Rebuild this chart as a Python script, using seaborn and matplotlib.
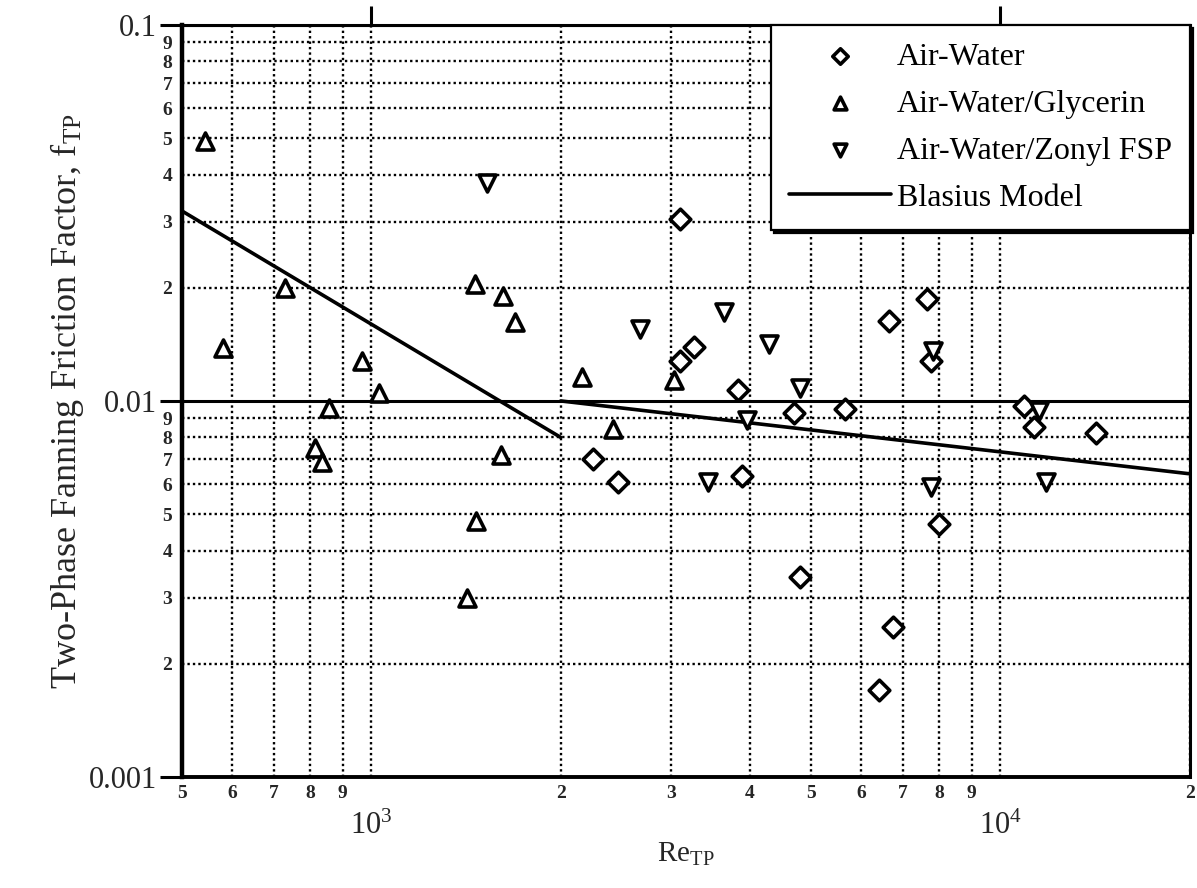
import matplotlib
matplotlib.use("Agg")
import matplotlib.pyplot as plt
import numpy as np
import pandas as pd
import seaborn as sns
from matplotlib.ticker import FixedLocator, FixedFormatter

# ---------------- data ----------------
aw_re = [2250, 2470, 3090, 3100, 3260, 3820, 3880, 4700, 4810, 5670,
         6400, 6660, 6750, 7630, 7750, 7990, 10900, 11300, 14200]
aw_f = [0.0070, 0.0061, 0.0305, 0.0128, 0.0139, 0.0107, 0.0063, 0.0093, 0.0034, 0.0095,
        0.0017, 0.0163, 0.0025, 0.0187, 0.0128, 0.0047, 0.0097, 0.0085, 0.0082]

gly_re = [545, 582, 728, 815, 836, 858, 966, 1030, 1420, 1460,
          1465, 1610, 1620, 1690, 2160, 2420, 3030]
gly_f = [0.049, 0.0138, 0.020, 0.0075, 0.0069, 0.0096, 0.0128, 0.0105, 0.0030, 0.0205,
         0.0048, 0.0072, 0.0190, 0.0162, 0.0116, 0.0084, 0.0114]

zon_re = [1527, 2670, 3430, 3640, 3960, 4290, 4800, 7750, 7800, 11500, 11800]
zon_f = [0.038, 0.0155, 0.0061, 0.0172, 0.0089, 0.0142, 0.0108, 0.0059, 0.0136, 0.0094, 0.0061]

# Blasius model (laminar and turbulent branches, end points)
lam_re = [500, 2000]
lam_f = [0.032, 0.008]
turb_re = [2000, 20000]
turb_f = [0.0100, 0.0064]

series_labels = ["Air-Water", "Air-Water/Glycerin", "Air-Water/Zonyl FSP", "Blasius Model"]

x_major = [1000, 10000]
x_major_labels = ["$10^3$", "$10^4$"]
x_minor = [500, 600, 700, 800, 900, 2000, 3000, 4000, 5000, 6000, 7000, 8000, 9000, 20000]
x_minor_labels = ["5", "6", "7", "8", "9", "2", "3", "4", "5", "6", "7", "8", "9", "2"]
y_major = [0.001, 0.01, 0.1]
y_major_labels = ["0.001", "0.01", "0.1"]
y_minor = [0.002, 0.003, 0.004, 0.005, 0.006, 0.007, 0.008, 0.009,
           0.02, 0.03, 0.04, 0.05, 0.06, 0.07, 0.08, 0.09]
y_minor_labels = ["2", "3", "4", "5", "6", "7", "8", "9",
                  "2", "3", "4", "5", "6", "7", "8", "9"]

# ---------------- style ----------------
sns.set_theme(style="white")
plt.rcParams["font.family"] = ["Liberation Serif", "DejaVu Serif"]
plt.rcParams["mathtext.fontset"] = "custom"
plt.rcParams["mathtext.rm"] = "Liberation Serif"
plt.rcParams["mathtext.it"] = "Liberation Serif:italic"
plt.rcParams["mathtext.bf"] = "Liberation Serif:bold"
plt.rcParams["text.color"] = "black"

fig = plt.figure(figsize=(11.97, 8.88), dpi=100)
ax = fig.add_axes([0.152, 0.125, 0.842, 0.847])

dotted = (0, (1.0, 1.3))
edge = dict(color="white", edgecolor="black", linewidth=2.6, zorder=5)

sns.scatterplot(x=aw_re, y=aw_f, marker="D", s=110, ax=ax, label=series_labels[0], **edge)
sns.scatterplot(x=gly_re, y=gly_f, marker="^", s=150, ax=ax, label=series_labels[1], **edge)
sns.scatterplot(x=zon_re, y=zon_f, marker="v", s=150, ax=ax, label=series_labels[2], **edge)
sns.lineplot(x=lam_re, y=lam_f, color="black", linewidth=2.6, ax=ax, label=series_labels[3], zorder=4)
sns.lineplot(x=turb_re, y=turb_f, color="black", linewidth=2.6, ax=ax, label="_nolegend_", zorder=4)

ax.set_xscale("log")
ax.set_yscale("log")
ax.set_xlim(500, 20000)
ax.set_ylim(0.001, 0.1)

ax.xaxis.set_major_locator(FixedLocator(x_major))
ax.xaxis.set_major_formatter(FixedFormatter(x_major_labels))
ax.xaxis.set_minor_locator(FixedLocator(x_minor))
ax.xaxis.set_minor_formatter(FixedFormatter(x_minor_labels))
ax.yaxis.set_major_locator(FixedLocator(y_major))
ax.yaxis.set_major_formatter(FixedFormatter(y_major_labels))
ax.yaxis.set_minor_locator(FixedLocator(y_minor))
ax.yaxis.set_minor_formatter(FixedFormatter(y_minor_labels))

# grid
ax.grid(False)
ax.set_axisbelow(True)
ax.xaxis.grid(True, which="both", color="black", linestyle=dotted, linewidth=1.7)
ax.yaxis.grid(True, which="minor", color="black", linestyle=dotted, linewidth=1.7)
ax.yaxis.grid(True, which="major", color="black", linestyle="-", linewidth=2.2)

# ticks
ax.tick_params(axis="y", which="major", direction="out", length=16, width=2.2,
               color="black", pad=2, labelsize=22, left=True)
ax.tick_params(axis="y", which="minor", length=0, pad=7, labelsize=14, left=True)
ax.tick_params(axis="x", which="major", direction="out", length=14, width=2.2,
               color="black", bottom=False, top=True, labelbottom=True, pad=11, labelsize=22)
ax.tick_params(axis="x", which="minor", length=0, pad=6, labelsize=14, bottom=True)
plt.setp(ax.get_yticklabels(minor=True), fontweight="bold")
plt.setp(ax.get_xticklabels(minor=True), fontweight="bold")

for side, lw in [("left", 3.2), ("bottom", 2.8), ("top", 2.2), ("right", 2.2)]:
    ax.spines[side].set_visible(True)
    ax.spines[side].set_color("black")
    ax.spines[side].set_linewidth(lw)

ax.set_ylabel("Two-Phase Fanning Friction Factor, f$_{\\mathregular{TP}}$", fontsize=26, labelpad=2)
ax.set_xlabel("Re$_{\\mathregular{TP}}$", fontsize=21, labelpad=0)

# legend
handles, labels = ax.get_legend_handles_labels()
order = [labels.index(l) for l in series_labels]
leg = ax.legend([handles[i] for i in order], [labels[i] for i in order],
                loc="upper right", bbox_to_anchor=(1.0, 1.0), borderaxespad=0,
                fontsize=23, frameon=True, fancybox=False, edgecolor="black",
                facecolor="white", framealpha=1,
                shadow={"color": "black", "alpha": 1},
                handlelength=3.2, handletextpad=0.2, labelspacing=0.55,
                borderpad=0.55, markerscale=0.75)
leg.get_frame().set_linewidth(1.6)
leg.set_zorder(10)

fig.savefig("out.png", dpi=100)
